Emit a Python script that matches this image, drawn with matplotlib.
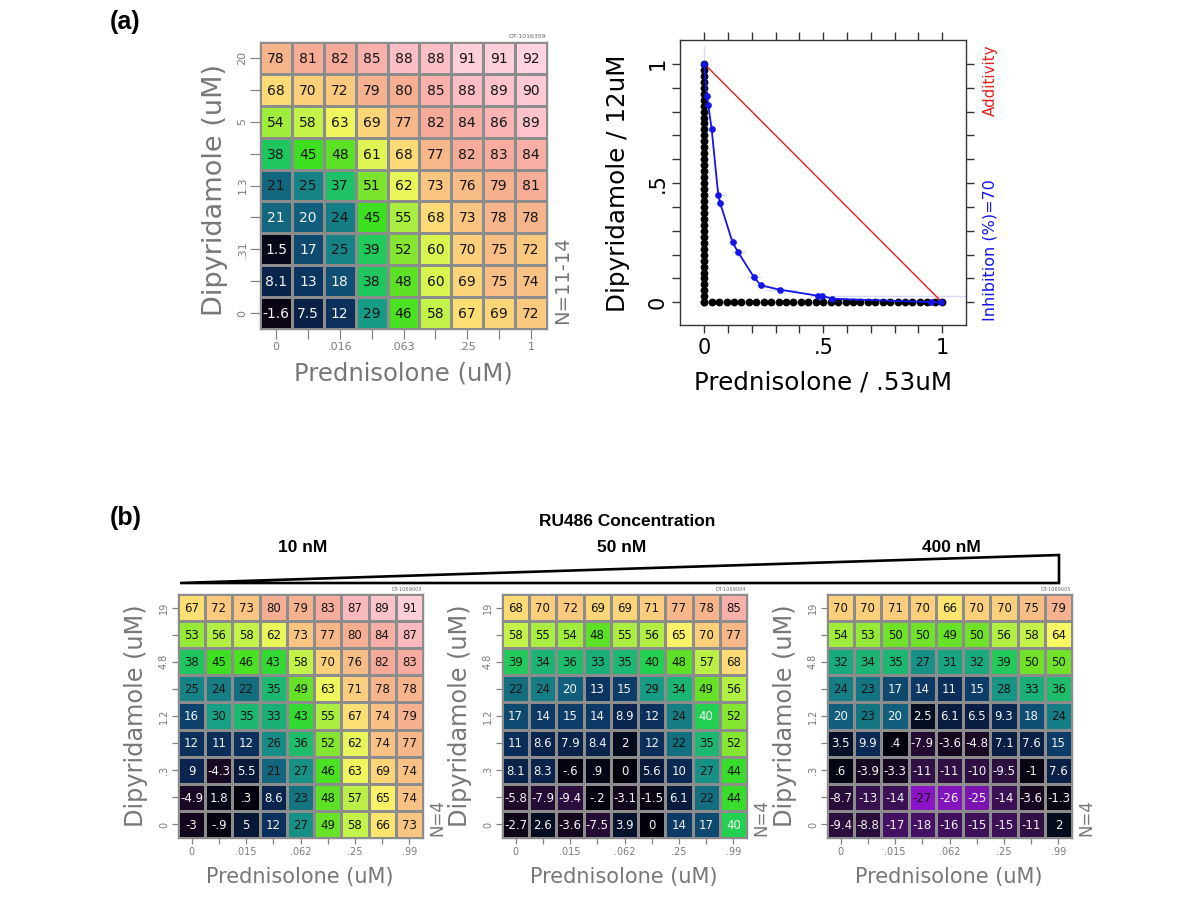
import numpy as np
import matplotlib
matplotlib.use("Agg")
import matplotlib.pyplot as plt
from matplotlib.colors import LinearSegmentedColormap, Normalize
from matplotlib.patches import Polygon

plt.rcParams['font.family'] = ['DejaVu Sans']

# ---------------- data ----------------
TOP_PRED_TICKS = ['0', '', '.016', '', '.063', '', '.25', '', '1']
TOP_DIPY_TICKS = ['20', '', '5', '', '1.3', '', '.31', '', '0']   # top -> bottom
TOP_VALUES = [
    [78, 81, 82, 85, 88, 88, 91, 91, 92],
    [68, 70, 72, 79, 80, 85, 88, 89, 90],
    [54, 58, 63, 69, 77, 82, 84, 86, 89],
    [38, 45, 48, 61, 68, 77, 82, 83, 84],
    [21, 25, 37, 51, 62, 73, 76, 79, 81],
    [21, 20, 24, 45, 55, 68, 73, 78, 78],
    [1.5, 17, 25, 39, 52, 60, 70, 75, 72],
    [8.1, 13, 18, 38, 48, 60, 69, 75, 74],
    [-1.6, 7.5, 12, 29, 46, 58, 67, 69, 72],
]

BOT_PRED_TICKS = ['0', '', '.015', '', '.062', '', '.25', '', '.99']
BOT_DIPY_TICKS = ['19', '', '4.8', '', '1.2', '', '.3', '', '0']
RU486_LABELS = ['10 nM', '50 nM', '400 nM']
PLATE_IDS = ['DT-1069003', 'DT-1069004', 'DT-1069005']

RU_10NM = [
    [67, 72, 73, 80, 79, 83, 87, 89, 91],
    [53, 56, 58, 62, 73, 77, 80, 84, 87],
    [38, 45, 46, 43, 58, 70, 76, 82, 83],
    [25, 24, 22, 35, 49, 63, 71, 78, 78],
    [16, 30, 35, 33, 43, 55, 67, 74, 79],
    [12, 11, 12, 26, 36, 52, 62, 74, 77],
    [9, -4.3, 5.5, 21, 27, 46, 63, 69, 74],
    [-4.9, 1.8, 0.3, 8.6, 23, 48, 57, 65, 74],
    [-3, -0.9, 5, 12, 27, 49, 58, 66, 73],
]
RU_50NM = [
    [68, 70, 72, 69, 69, 71, 77, 78, 85],
    [58, 55, 54, 48, 55, 56, 65, 70, 77],
    [39, 34, 36, 33, 35, 40, 48, 57, 68],
    [22, 24, 20, 13, 15, 29, 34, 49, 56],
    [17, 14, 15, 14, 8.9, 12, 24, 40, 52],
    [11, 8.6, 7.9, 8.4, 2, 12, 22, 35, 52],
    [8.1, 8.3, -0.6, 0.9, 0, 5.6, 10, 27, 44],
    [-5.8, -7.9, -9.4, -0.2, -3.1, -1.5, 6.1, 22, 44],
    [-2.7, 2.6, -3.6, -7.5, 3.9, 0, 14, 17, 40],
]
RU_400NM = [
    [70, 70, 71, 70, 66, 70, 70, 75, 79],
    [54, 53, 50, 50, 49, 50, 56, 58, 64],
    [32, 34, 35, 27, 31, 32, 39, 50, 50],
    [24, 23, 17, 14, 11, 15, 28, 33, 36],
    [20, 23, 20, 2.5, 6.1, 6.5, 9.3, 18, 24],
    [3.5, 9.9, 0.4, -7.9, -3.6, -4.8, 7.1, 7.6, 15],
    [0.6, -3.9, -3.3, -11, -11, -10, -9.5, -1, 7.6],
    [-8.7, -13, -14, -27, -26, -25, -14, -3.6, -1.3],
    [-9.4, -8.8, -17, -18, -16, -15, -15, -11, 2],
]

# isobologram (Inhibition = 70 %)
ISO_X = [0.0, 0.010, 0.017, 0.031, 0.059, 0.067, 0.119, 0.143, 0.209, 0.238,
         0.318, 0.476, 0.496, 0.538, 0.955, 0.997]
ISO_Y = [1.0, 0.864, 0.826, 0.727, 0.448, 0.416, 0.251, 0.209, 0.105, 0.071,
         0.053, 0.028, 0.027, 0.015, 0.001, 0.0]
ISO_XERR_LO = [0.004, 0.008, 0.015, 0.010, 0.015, 0.015, 0.02, 0.03, 0.03, 0.02,
               0.06, 0.03, 0.03, 0.02, 0.02, 0.02]
ISO_XERR_HI = [0.004, 0.008, 0.015, 0.010, 0.035, 0.015, 0.02, 0.03, 0.03, 0.02,
               0.07, 0.03, 0.62, 0.02, 0.02, 0.02]
ISO_YERR_LO = [0.02, 0.02, 0.03, 0.02, 0.03, 0.02, 0.02, 0.02, 0.015, 0.01,
               0.005, 0.005, 0.005, 0.005, 0.002, 0.002]
ISO_YERR_HI = [0.075, 0.02, 0.03, 0.02, 0.03, 0.02, 0.02, 0.02, 0.015, 0.01,
               0.005, 0.005, 0.005, 0.005, 0.002, 0.002]
ZERO_Y = [0, .025, .05, .075, .1, .125, .15, .175, .2, .225, .25, .275, .3, .325,
          .35, .375, .4, .425, .45, .475, .5, .525, .55, .575, .6, .625, .65, .675,
          .7, .725, .75, .775, .8, .825, .85, .875, .9, .925, .95, .975, 1]
ZERO_X = [0, .031, .063, .094, .125, .156, .188, .219, .25, .281, .313, .344,
          .375, .406, .438, .469, .5, .531, .563, .594, .625, .656, .688, .719,
          .75, .781, .813, .844, .875, .906, .938, .969, 1]
ADD_X = [0, 1]
ADD_Y = [1, 0]

# cells whose label colour departs from the light/dark rule (row, col)
WHITE_TEXT = {'top': [(5, 0)], '10': [], '50': [(4, 7), (8, 8)], '400': []}
DARK_TEXT = {'top': [], '10': [], '50': [], '400': [(7, 3)]}

# ---------------- colour map ----------------
anchors = [(-27, '#8c14c8'), (-20, '#4c1070'), (-12, '#33104a'), (-5, '#1a0824'),
           (0, '#02020c'), (5, '#081838'), (10, '#0a2a56'), (15, '#0c3c68'),
           (20, '#115e7c'), (25, '#168686'), (30, '#18a084'), (35, '#1cb872'),
           (40, '#22d052'), (45, '#3ee020'), (50, '#70e22a'), (55, '#a8ee40'),
           (60, '#d6f44e'), (64, '#f8f862'), (67, '#fce072'), (70, '#fcd07a'),
           (74, '#f9c282'), (78, '#f6b48a'), (82, '#f6aa98'), (86, '#f8b2b0'),
           (89, '#fcc2ca'), (92, '#ffd4e0')]
VMIN, VMAX = anchors[0][0], anchors[-1][0]
cmap = LinearSegmentedColormap.from_list(
    'heat', [((v - VMIN) / (VMAX - VMIN), c) for v, c in anchors])
norm = Normalize(VMIN, VMAX)

GRID = '#8c8c8c'
TICKC = '#808080'


def fmt(v):
    if abs(v) >= 10:
        return f"{v:.0f}"
    s = f"{v:.1f}"
    if s.endswith('.0'):
        s = s[:-2]
    if s.startswith('0.'):
        s = s[1:]
    elif s.startswith('-0.'):
        s = '-' + s[2:]
    return s


def heatmap(ax, vals, xt, yt, key, fs, tlen, tfs):
    arr = np.array(vals, dtype=float)
    nr, nc = arr.shape
    ax.pcolormesh(np.arange(nc + 1) - 0.5, np.arange(nr + 1) - 0.5, arr,
                  cmap=cmap, norm=norm, edgecolors=GRID, linewidth=0.75)
    ax.set_xlim(-0.5, nc - 0.5)
    ax.set_ylim(nr - 0.5, -0.5)
    for r in range(nr):
        for c in range(nc):
            v = arr[r, c]
            dark = v >= 21
            if (r, c) in WHITE_TEXT[key]:
                dark = False
            if (r, c) in DARK_TEXT[key]:
                dark = True
            ax.text(c, r + 0.03, fmt(v), ha='center', va='center', fontsize=fs,
                    color='#141414' if dark else '#f4f4f4')
    ax.set_xticks(range(nc))
    ax.set_xticklabels(xt)
    ax.set_yticks(range(nr))
    ax.set_yticklabels(yt, rotation=90, va='center')
    ax.tick_params(direction='out', length=tlen, width=0.9, color=TICKC,
                   labelcolor='#7a7a7a', labelsize=tfs, pad=2)
    for s in ax.spines.values():
        s.set_color(GRID)
        s.set_linewidth(1.0)


W, H = 1200, 900
fig = plt.figure(figsize=(12, 9), dpi=100)


def fx(px):
    return px / W


def fy(py):
    return 1 - py / H


def axes_px(x0, y0, x1, y1):
    return fig.add_axes([fx(x0), fy(y1), (x1 - x0) / W, (y1 - y0) / H])


# ---------------- panel (a) heatmap ----------------
axh = axes_px(260, 42, 547, 329)
heatmap(axh, TOP_VALUES, TOP_PRED_TICKS, TOP_DIPY_TICKS, 'top', 10, 7, 8)
fig.text(fx(215), fy(190), 'Dipyridamole (uM)', rotation=90, ha='center',
         va='center', fontsize=19.5, color='#777777')
fig.text(fx(403), fy(373), 'Prednisolone (uM)', ha='center', va='center',
         fontsize=17.5, color='#777777')
fig.text(fx(563), fy(324), 'N=11-14', rotation=90, ha='center', va='bottom',
         fontsize=14, color='#777777')
fig.text(fx(546), fy(37), 'DT-1016359', ha='right', va='center', fontsize=4.5,
         color='#666666')

# ---------------- panel (a) isobologram ----------------
axi = axes_px(680, 40, 966, 325)
axi.errorbar(ISO_X, ISO_Y, xerr=[ISO_XERR_LO, ISO_XERR_HI],
             yerr=[ISO_YERR_LO, ISO_YERR_HI], fmt='none', ecolor='#2030e0',
             alpha=0.18, elinewidth=1.0, zorder=1)
axi.plot(ADD_X, ADD_Y, color='#e02020', lw=1.0, zorder=2)
axi.plot([0] * len(ZERO_Y), ZERO_Y, 'o', color='black', ms=4.6, zorder=3)
axi.plot(ZERO_X, [0] * len(ZERO_X), 'o', color='black', ms=4.6, zorder=3)
axi.plot(ISO_X, ISO_Y, '-o', color='#1414e6', lw=1.3, ms=3.8, zorder=4)
axi.set_xlim(-0.102, 1.10)
axi.set_ylim(-0.095, 1.10)
ticks01 = [0, .1, .2, .3, .4, .5, .6, .7, .8, .9, 1]
axi.set_xticks(ticks01)
axi.set_xticklabels(['0', '', '', '', '', '.5', '', '', '', '', '1'])
axi.set_yticks(ticks01)
axi.set_yticklabels(['0', '', '', '', '', '.5', '', '', '', '', '1'],
                    rotation=90, va='center')
axi.tick_params(direction='out', length=6, width=1.0, color='#333333',
                labelsize=15, top=True, right=True, pad=3)
for s in axi.spines.values():
    s.set_color('#333333')
    s.set_linewidth(1.0)
fig.text(fx(618), fy(183), 'Dipyridamole / 12uM', rotation=90, ha='center',
         va='center', fontsize=17.7, color='black')
fig.text(fx(823), fy(383), 'Prednisolone / .53uM', ha='center', va='center',
         fontsize=17.7, color='black')
fig.text(fx(990), fy(80), 'Additivity', rotation=90, ha='center', va='center',
         fontsize=10.8, color='#e02020')
fig.text(fx(990), fy(250), 'Inhibition (%)=70', rotation=90, ha='center',
         va='center', fontsize=11.5, color='#1414e6')

# ---------------- panel labels ----------------
fig.text(fx(110), fy(22), '(a)', ha='left', va='center', fontsize=18,
         fontweight='bold', family='Liberation Sans')
fig.text(fx(110), fy(518), '(b)', ha='left', va='center', fontsize=18,
         fontweight='bold', family='Liberation Sans')

# ---------------- panel (b) ----------------
fig.text(fx(627), fy(521), 'RU486 Concentration', ha='center', va='center',
         fontsize=12.5, fontweight='bold', family='Liberation Sans')
for lab, xc in zip(RU486_LABELS, [303, 622, 951]):
    fig.text(fx(xc), fy(548), lab, ha='center', va='center', fontsize=12.5,
             fontweight='bold', family='Liberation Sans')
tri = Polygon([[fx(180), fy(583)], [fx(1059), fy(555)], [fx(1059), fy(583)]],
              closed=True, fill=False, edgecolor='black', lw=1.9,
              transform=fig.transFigure, joinstyle='miter')
fig.add_artist(tri)

lefts = [178, 502, 827]
data_b = [RU_10NM, RU_50NM, RU_400NM]
keys = ['10', '50', '400']
for x0, vals, key, pid in zip(lefts, data_b, keys, PLATE_IDS):
    ax = axes_px(x0, 594, x0 + 245, 838)
    heatmap(ax, vals, BOT_PRED_TICKS, BOT_DIPY_TICKS, key, 8.5, 4.5, 7)
    fig.text(fx(x0 - 42), fy(716), 'Dipyridamole (uM)', rotation=90,
             ha='center', va='center', fontsize=17.3, color='#777777')
    fig.text(fx(x0 + 122), fy(877), 'Prednisolone (uM)', ha='center',
             va='center', fontsize=15, color='#777777')
    fig.text(fx(x0 + 259), fy(836), 'N=4', rotation=90, ha='center',
             va='bottom', fontsize=12, color='#777777')
    fig.text(fx(x0 + 244), fy(589.5), pid, ha='right', va='center',
             fontsize=3.6, color='#666666')

fig.savefig('out.png', dpi=100)
